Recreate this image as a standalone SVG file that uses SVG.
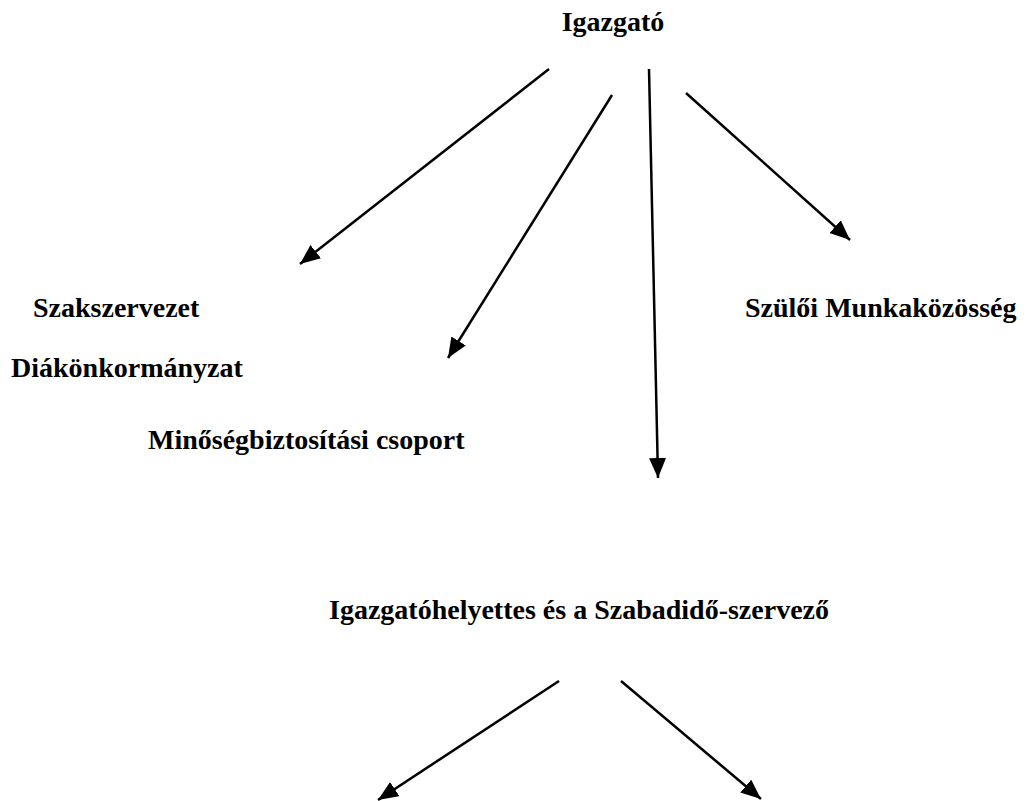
<svg xmlns="http://www.w3.org/2000/svg" width="1027" height="801" viewBox="0 0 1027 801">
  <style>
    .lbl { font-family: "Liberation Serif", "Times New Roman", serif; font-weight: bold; font-size: 28px; fill: #000; }
    .edge { stroke: #000; stroke-width: 2.5; fill: none; marker-end: url(#head); }
  </style>
  <defs>
    <marker id="head" markerUnits="userSpaceOnUse" markerWidth="21" markerHeight="18" refX="20" refY="8.5" orient="auto">
      <path d="M0,0 L20,8.5 L0,17 Z" fill="#000"/>
    </marker>
  </defs>
  <rect width="1027" height="801" fill="#fff"/>

  <!-- connectors: Igazgató fans out, deputy splits in two at the bottom -->
  <g id="connectors">
    <line class="edge" x1="549" y1="69" x2="300" y2="264"/>
    <line class="edge" x1="612" y1="95" x2="448" y2="358"/>
    <line class="edge" x1="649" y1="69" x2="658" y2="478"/>
    <line class="edge" x1="686" y1="93" x2="850" y2="240"/>
    <line class="edge" x1="559" y1="681" x2="378" y2="800"/>
    <line class="edge" x1="621" y1="681" x2="761" y2="799"/>
  </g>

  <g id="igazgato"><text class="lbl" x="613" y="31" text-anchor="middle">Igazgató</text></g>
  <g id="szakszervezet"><text class="lbl" x="33" y="317">Szakszervezet</text></g>
  <g id="szuloi"><text class="lbl" x="745" y="317">Szülői Munkaközösség</text></g>
  <g id="diakonkormanyzat"><text class="lbl" x="11" y="377">Diákönkormányzat</text></g>
  <g id="minoseg"><text class="lbl" x="148" y="449">Minőségbiztosítási csoport</text></g>
  <g id="helyettes"><text class="lbl" x="329" y="619">Igazgatóhelyettes és a Szabadidő-szervező</text></g>
</svg>
